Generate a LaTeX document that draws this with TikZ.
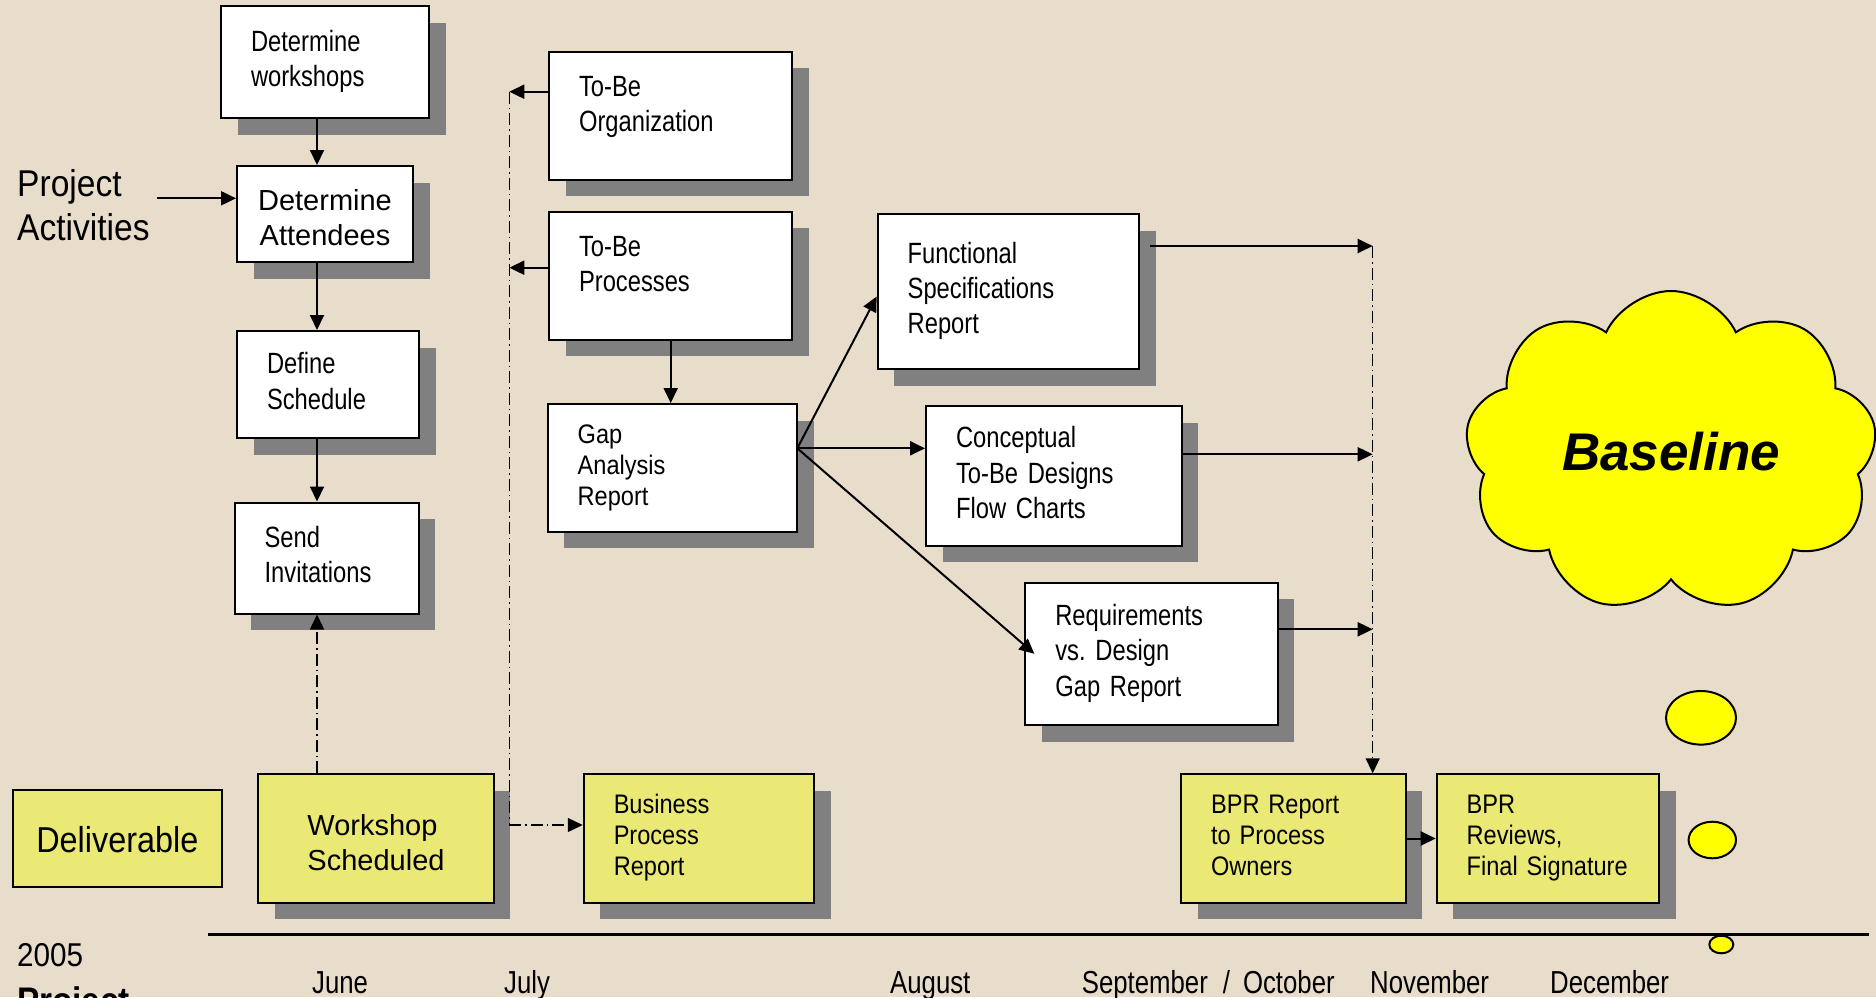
\documentclass[tikz,border=0pt]{standalone}
\usepackage{fontspec}
\setmainfont{Liberation Sans}
\newfontfamily\narrowfont{Liberation Sans}[FakeStretch=0.81]
\newfontfamily\smallfont{Liberation Sans}[FakeStretch=0.88]
\newfontfamily\semifont{Liberation Sans}[FakeStretch=0.9]
\usetikzlibrary{arrows.meta,shadows,shapes.symbols}

\definecolor{paper}{RGB}{232,221,203}
\definecolor{shade}{RGB}{128,128,128}
\definecolor{lemon}{RGB}{235,233,118}
\definecolor{puff}{RGB}{255,255,0}

\tikzset{
  frame/.style={draw, line width=2pt, inner xsep=30pt, inner ysep=0pt},
  shadowed/.style={drop shadow={shadow xshift=16.5pt, shadow yshift=-16.5pt, fill=shade, opacity=1}},
  box/.style={frame, shadowed, fill=white, align=left, font=\narrowfont\fontsize{29.3}{35.3}\selectfont},
  yellowbox/.style={frame, shadowed, fill=lemon, align=left, font=\smallfont\fontsize{26.8}{31}\selectfont},
  arr/.style={line width=2pt, -{Triangle[length=15pt,width=14pt]}},
  dashdot/.style={line width=1.4pt, dash pattern=on 12pt off 4pt on 1.5pt off 4pt},
  month/.style={anchor=base west, inner sep=0pt, font=\narrowfont\fontsize{31.8}{38}\selectfont},
  bubble/.style={draw, line width=2pt, fill=puff}
}

\begin{document}
\begin{tikzpicture}[x=1pt, y=-1pt]
\useasboundingbox (0,0) rectangle (1876,997);
\clip (0,0) rectangle (1876,997);
\fill[paper] (0,0) rectangle (1876,997);

%labels on the left
\node[anchor=north west, inner sep=0pt, align=left, font=\semifont\fontsize{37.3}{43.3}\selectfont] (acts) at (17,166.4) {\strut Project\\Activities\strut};
\node[frame, fill=lemon, align=center, inner xsep=5pt, font=\semifont\fontsize{36}{43}\selectfont, minimum width=208.7pt, minimum height=97pt] (deliv) at (117.3,838.5) {\strut\\[-32pt]\strut Deliverable\strut};

%workshop column
\node[box, text width=148pt, minimum height=112pt] (wshop) at (325,62) {\strut Determine\\workshops\strut};
\node[frame, shadowed, fill=white, align=center, inner xsep=5pt, font=\fontsize{29}{35}\selectfont, minimum width=176pt, minimum height=96pt] (attend) at (325,214) {\strut\\[-21pt]\strut Determine\\Attendees\strut};
\node[box, text width=122pt, minimum height=107pt] (sched) at (328,384.5) {\strut Define\\Schedule\strut};
\node[box, text width=124pt, minimum height=111pt] (invite) at (326.6,558) {\strut Send\\Invitations\strut};
\node[frame, shadowed, fill=lemon, align=left, inner xsep=5pt, font=\fontsize{29}{35}\selectfont, minimum width=235.4pt, minimum height=128.4pt] (wsched) at (376,838.5) {\strut\\[-21pt]\strut Workshop\\Scheduled\strut};

%to-be column
\node[box, text width=183.3pt, minimum height=128pt] (org) at (670.7,115.7) {\strut To-Be\\Organization\\[-17.6pt]\strut};
\node[box, text width=183.3pt, minimum height=128pt] (proc) at (670.7,275.7) {\strut To-Be\\Processes\\[-17.6pt]\strut};
\node[box, text width=189.6pt, minimum height=127.7pt, font=\smallfont\fontsize{26.8}{31}\selectfont] (gap) at (672.5,467.9) {\strut Gap\\Analysis\\Report\strut};
\node[yellowbox, text width=170.3pt, minimum height=128.4pt] (bpr) at (698.9,838.5) {\strut Business\\Process\\Report\strut};

%design column
\node[box, text width=201.6pt, minimum height=155pt] (func) at (1008.5,291.5) {\strut Functional\\Specifications\\Report\strut};
\node[box, text width=195.7pt, minimum height=139.4pt] (concept) at (1053.9,476) {\strut Conceptual\\To-Be Designs\\Flow Charts\strut};
\node[box, text width=192.5pt, minimum height=142.4pt] (req) at (1151.6,653.8) {\strut Requirements\\vs.\ Design\\Gap Report\strut};
\node[yellowbox, text width=164.7pt, minimum height=128.4pt] (owners) at (1293.4,838.5) {\strut BPR Report\\to Process\\Owners\strut};
\node[yellowbox, text width=162.6pt, minimum height=128.4pt] (review) at (1548,838.5) {\strut BPR\\Reviews,\\Final Signature\strut};

%the baseline cloud
\node[cloud, cloud puffs=9, cloud puff arc=130, cloud ignores aspect, draw, line width=2pt, fill=puff, minimum width=412pt, minimum height=322pt, font=\bfseries\itshape\fontsize{53}{60}\selectfont] (cloud) at (1671,452) {Baseline};

%connectors
\coordinate (lane) at (317,0);
\coordinate (pa) at (157,198.3);
\draw[arr] (pa) -- (pa -| attend.west);
\draw[arr] (wshop.south -| lane) -- (attend.north -| lane);
\draw[arr] (attend.south -| lane) -- (sched.north -| lane);
\draw[arr] (sched.south -| lane) -- (invite.north -| lane);
\draw[arr, dashdot] (wsched.north -| lane) -- (invite.south -| lane);

\coordinate (busA) at (509.3,91.7);
\coordinate (busB) at (509.3,267.7);
\coordinate (busC) at (509.3,825);
\draw[arr] (org.west |- busA) -- (busA);
\draw[arr] (proc.west |- busB) -- (busB);
\draw[dashdot] (busA) -- (busC);
\draw[arr, dashdot] (busC) -- (busC -| bpr.west);
\draw[arr] (proc.south) -- (gap.north -| proc.south);

\coordinate (fan) at (797.3,448.3);
\draw[arr] (fan) -- ([yshift=-5pt]func.west);
\draw[arr] (fan) -- (fan -| concept.west);
\draw[arr] (fan) -- ([xshift=10pt]req.west);

\coordinate (busD) at (1372.7,246);
\coordinate (busE) at (1372.7,454.3);
\coordinate (busF) at (1372.7,629.3);
\draw[arr] ([xshift=10pt]func.east |- busD) -- (busD);
\draw[arr] (concept.east |- busE) -- (busE);
\draw[arr] (req.east |- busF) -- (busF);
\draw[arr, dashdot] (busD) -- (busD |- owners.north);
\draw[arr] (owners.east) -- (review.west);

%time line
\draw[line width=3pt] (208,934) -- (1869,934);
\node[anchor=base west, inner sep=0pt, font=\semifont\fontsize{33}{40}\selectfont] (year) at (17,966.7) {2005};
\node[anchor=base west, inner sep=0pt, font=\semifont\bfseries\fontsize{37}{43}\selectfont] (yearlbl) at (17,1013) {Project};
\node[month] (jun) at (312,993) {June};
\node[month] (jul) at (504,993) {July};
\node[month] (aug) at (890,993) {August};
\node[month] (sepoct) at (1081.7,993) {September\hspace{15pt}/\hspace{13pt}October};
\node[month] (nov) at (1370,993) {November};
\node[month] (dec) at (1550,993) {December};

%thought bubbles
\draw[bubble] (1701,717.8) ellipse [x radius=35pt, y radius=26.8pt];
\draw[bubble] (1712.3,840) ellipse [x radius=23.7pt, y radius=18.3pt];
\draw[bubble] (1721.3,944.5) ellipse [x radius=12pt, y radius=8.8pt];

\end{tikzpicture}
\end{document}
